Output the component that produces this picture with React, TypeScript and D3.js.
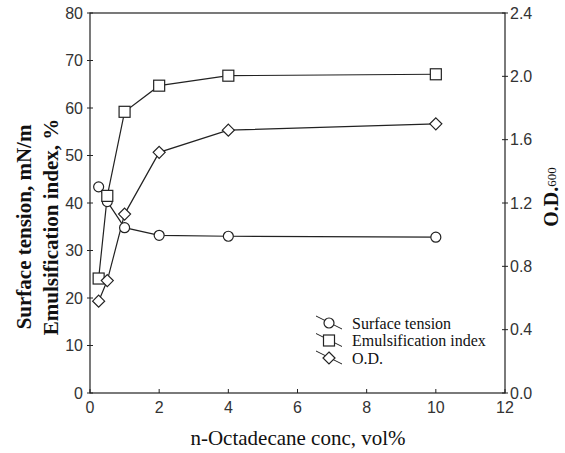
import * as d3 from 'd3'
import { useEffect, useRef } from 'react'

const WIDTH = 565
const HEIGHT = 453
const M = { left: 90, right: 60, top: 13, bottom: 60 }

const conc = [0.25, 0.5, 1, 2, 4, 10]
const surfaceTension = [43.4, 40.3, 34.8, 33.2, 33.0, 32.8]
const emulsification = [24.1, 41.5, 59.2, 64.7, 66.8, 67.1]
const opticalDensity = [0.58, 0.71, 1.13, 1.52, 1.66, 1.7]

const xTicks = [0, 2, 4, 6, 8, 10, 12]
const yTicks = [0, 10, 20, 30, 40, 50, 60, 70, 80]
const y2Ticks = [0, 0.4, 0.8, 1.2, 1.6, 2.0, 2.4]

const legendLabels = ['Surface tension', 'Emulsification index', 'O.D.']

const INK = '#222'
const SANS = 'Liberation Sans, Arial, sans-serif'
const SERIF = 'Liberation Serif, Times New Roman, serif'

type Shape = 'circle' | 'square' | 'diamond'

function drawMarker(g: d3.Selection<SVGGElement, unknown, null, undefined>, shape: Shape, x: number, y: number) {
  if (shape === 'circle') {
    g.append('circle').attr('cx', x).attr('cy', y).attr('r', 5)
      .attr('fill', 'white').attr('stroke', INK).attr('stroke-width', 1.2)
  } else if (shape === 'square') {
    g.append('rect').attr('x', x - 5.5).attr('y', y - 5.5).attr('width', 11).attr('height', 11)
      .attr('fill', 'white').attr('stroke', INK).attr('stroke-width', 1.2)
  } else {
    const s = 6
    g.append('path').attr('d', `M${x},${y - s}L${x + s},${y}L${x},${y + s}L${x - s},${y}Z`)
      .attr('fill', 'white').attr('stroke', INK).attr('stroke-width', 1.2)
  }
}

export default function App() {
  const ref = useRef<SVGSVGElement>(null)

  useEffect(() => {
    const svg = d3.select(ref.current!)
    svg.selectAll('*').remove()

    const x = d3.scaleLinear([0, 12], [M.left, WIDTH - M.right])
    const y = d3.scaleLinear([0, 80], [HEIGHT - M.bottom, M.top])
    const y2 = d3.scaleLinear([0, 2.4], [HEIGHT - M.bottom, M.top])
    const x0 = M.left, x1 = WIDTH - M.right, yb = HEIGHT - M.bottom, yt = M.top

    // frame
    svg.append('rect').attr('x', x0).attr('y', yt).attr('width', x1 - x0).attr('height', yb - yt)
      .attr('fill', 'none').attr('stroke', INK).attr('stroke-width', 1.2)

    const axes = svg.append('g').attr('font-family', SANS).attr('font-size', 16).attr('fill', '#333')
    xTicks.forEach((t) => {
      axes.append('line').attr('x1', x(t)).attr('x2', x(t)).attr('y1', yb).attr('y2', yb - 4).attr('stroke', INK)
      axes.append('text').attr('x', x(t)).attr('y', yb + 20).attr('text-anchor', 'middle').text(t)
    })
    yTicks.forEach((t) => {
      axes.append('line').attr('x1', x0 - 3).attr('x2', x0 + 3).attr('y1', y(t)).attr('y2', y(t)).attr('stroke', INK)
      axes.append('text').attr('x', x0 - 7).attr('y', y(t)).attr('dy', '0.35em').attr('text-anchor', 'end').text(t)
    })
    y2Ticks.forEach((t) => {
      axes.append('line').attr('x1', x1 - 3).attr('x2', x1 + 3).attr('y1', y2(t)).attr('y2', y2(t)).attr('stroke', INK)
      axes.append('text').attr('x', x1 + 5).attr('y', y2(t)).attr('dy', '0.35em').text(t.toFixed(1))
    })

    // axis titles
    svg.append('text').attr('x', 298).attr('y', 445).attr('text-anchor', 'middle')
      .attr('font-family', SERIF).attr('font-size', 21).attr('fill', '#111').text('n-Octadecane conc, vol%')
    const lt = svg.append('g').attr('transform', `translate(0,227) rotate(-90)`)
      .attr('font-family', SERIF).attr('font-size', 21).attr('font-weight', 'bold').attr('fill', '#111')
      .attr('text-anchor', 'middle')
    lt.append('text').attr('x', 0).attr('y', 31).text('Surface tension, mN/m')
    lt.append('text').attr('x', 0).attr('y', 58).text('Emulsification index, %')
    const rt = svg.append('text').attr('transform', `translate(558,197) rotate(-90)`)
      .attr('font-family', SERIF).attr('font-size', 20).attr('font-weight', 'bold').attr('fill', '#111')
      .attr('text-anchor', 'middle')
    rt.append('tspan').text('O.D.')
    rt.append('tspan').attr('font-size', 13).attr('font-weight', 'normal').attr('dy', -2).text('600')

    const series: { vals: number[]; scale: d3.ScaleLinear<number, number>; shape: Shape }[] = [
      { vals: surfaceTension, scale: y, shape: 'circle' },
      { vals: emulsification, scale: y, shape: 'square' },
      { vals: opticalDensity, scale: y2, shape: 'diamond' },
    ]
    const plot = svg.append('g')
    series.forEach((s) => {
      const line = d3.line<number>((_, i) => x(conc[i]), (d) => s.scale(d))
      plot.append('path').attr('d', line(s.vals)).attr('fill', 'none').attr('stroke', INK).attr('stroke-width', 1.2)
    })
    series.forEach((s) => {
      const g = plot.append('g')
      s.vals.forEach((v, i) => drawMarker(g, s.shape, x(conc[i]), s.scale(v)))
    })

    // legend
    const leg = svg.append('g')
    legendLabels.forEach((label, i) => {
      const ly = 323 + i * 17.5
      leg.append('line').attr('x1', 316).attr('y1', ly - 7).attr('x2', 342).attr('y2', ly + 6)
        .attr('stroke', INK).attr('stroke-width', 1)
      drawMarker(leg as any, series[i].shape, 329, ly)
      leg.append('text').attr('x', 352).attr('y', ly).attr('dy', '0.35em')
        .attr('font-family', SERIF).attr('font-size', 16).attr('fill', '#111').text(label)
    })
  }, [])

  return (
    <svg ref={ref} width={WIDTH} height={HEIGHT}
      style={{ position: 'absolute', left: 0, top: 0, background: 'white' }} />
  )
}
